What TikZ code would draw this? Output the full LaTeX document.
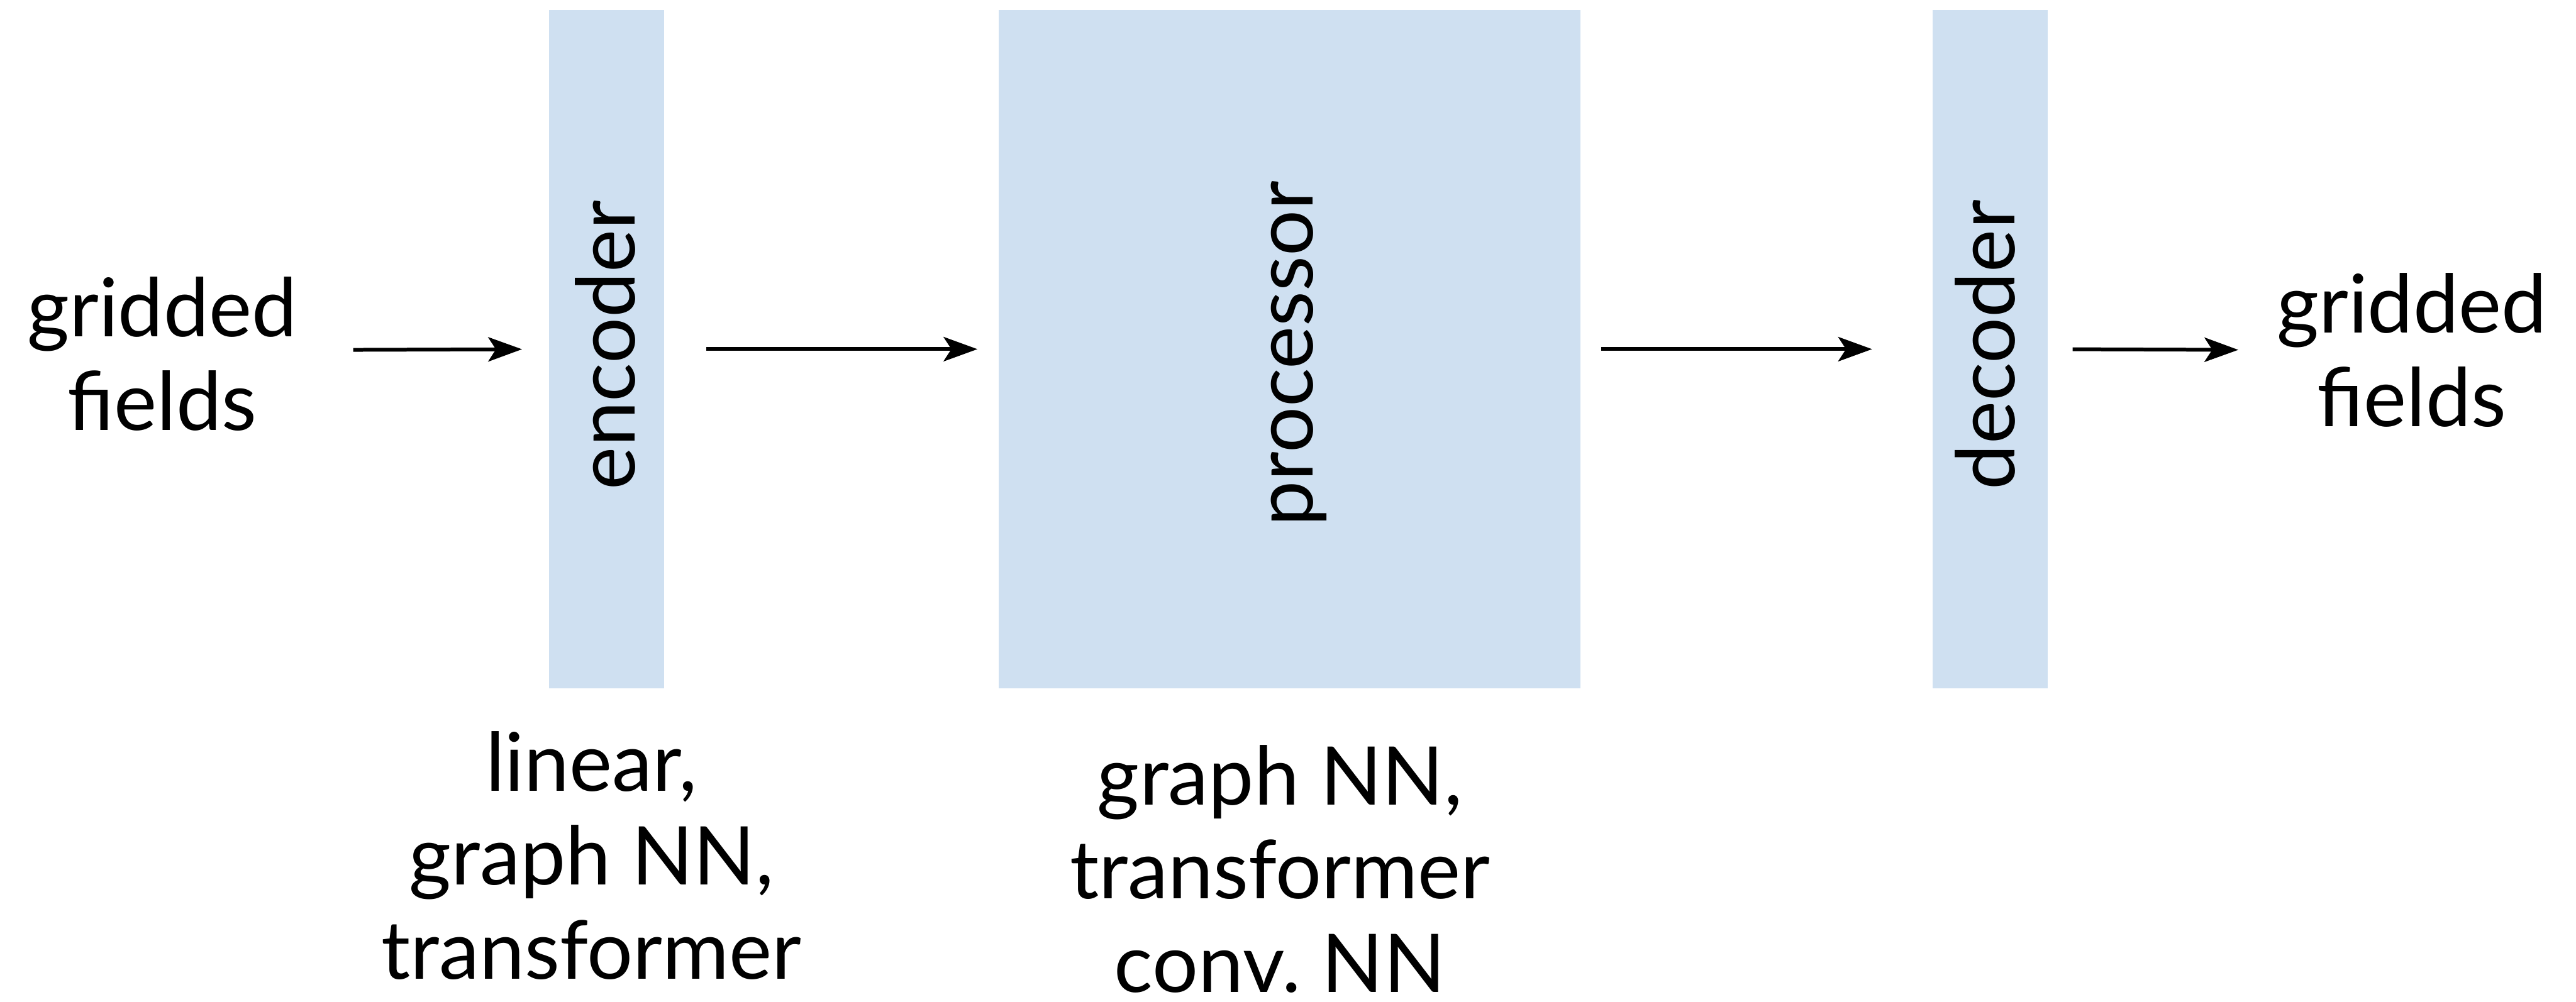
\documentclass[tikz,border=0pt]{standalone}
\usepackage{fontspec}
\setmainfont{Lato}
\usetikzlibrary{arrows.meta}
\definecolor{boxblue}{RGB}{207,224,241}
\begin{document}
\begin{tikzpicture}[x=1pt,y=1pt,
  blk/.style={fill=boxblue, draw=none, inner sep=0pt, outer sep=0pt, minimum height=192.6pt},
  lbl/.style={font=\fontsize{23}{26.6}\selectfont, align=center, inner sep=0pt, outer sep=0pt},
  arr/.style={-{Stealth[length=9.6pt,width=6.9pt,inset=2.2pt]}, line width=1.07pt}]
\useasboundingbox (0,0) rectangle (730.8,284.3);
% blocks
\node[blk, minimum width=32.6pt]  (enc)  at (172.1,185.2) {};
\node[blk, minimum width=164.9pt] (proc) at (365.85,185.2) {};
\node[blk, minimum width=32.6pt]  (dec)  at (564.6,185.2) {};
% rotated labels
\node[lbl, rotate=90] (enct)  at (171.7,186.4) {encoder};
\node[lbl, rotate=90] (proct) at (368.4,183.9) {processor};
\node[lbl, rotate=90] (dect)  at (563.2,186.4) {decoder};
% side labels
\node[lbl, anchor=base] (in)  at (46.0,162.2) {gridded\\fields};
\node[lbl, anchor=base] (out) at (684.2,163.2) {gridded\\fields};
% bottom labels
\node[lbl, anchor=base] (encl)  at (167.8,6.5) {linear,\\graph NN,\\transformer};
\node[lbl, anchor=base] (procl) at (363.1,2.6) {graph NN,\\transformer\\conv.\ NN};
% connectors
\coordinate (a1) at (100.2,185.0);
\coordinate (a4) at (635.0,185.0);
\draw[arr, shorten >=7.7pt] (a1) -- (enc.west);
\draw[arr, shorten <=12pt, shorten >=6.1pt] (enc.east) -- (proc.west);
\draw[arr, shorten <=5.9pt, shorten >=17.2pt] (proc.east) -- (dec.west);
\draw[arr, shorten <=7.1pt] (dec.east) -- (a4);
\end{tikzpicture}
\end{document}
